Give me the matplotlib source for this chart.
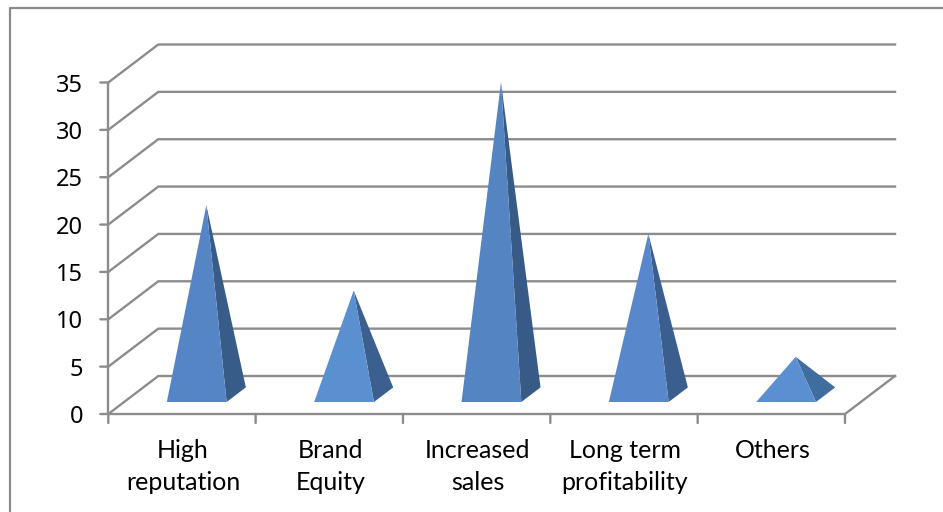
import matplotlib
matplotlib.use("Agg")
import matplotlib.pyplot as plt
from matplotlib.patches import Polygon
from matplotlib.lines import Line2D

plt.rcParams['font.family'] = ['Lato', 'DejaVu Sans']

categories = ["High\nreputation", "Brand\nEquity", "Increased\nsales", "Long term\nprofitability", "Others"]
values = [20, 11, 33, 17, 4]
yticks = [0, 5, 10, 15, 20, 25, 30, 35]
front_colors = ["#5585c5", "#5b90d0", "#5484c2", "#5888cb", "#5a8fd2"]
side_colors = ["#385c88", "#3b5f8e", "#375a87", "#3a5f8f", "#416c9f"]

W, H = 943, 512
GRID = "#8c8c8c"
LEFT, RIGHT, Y0, Y35 = 108.3, 845, 414, 82.5

fig = plt.figure(figsize=(W / 100, H / 100), dpi=100)
fig.patch.set_facecolor("white")

# outer chart frame, open at the bottom and right
fig.add_artist(Line2D([10 / W, 10 / W, 1], [0, 1 - 8 / H, 1 - 8 / H], color="#8a8a8a", lw=1.6))

ax = fig.add_axes([LEFT / W, 1 - Y0 / H, (RIGHT - LEFT) / W, (Y0 - Y35) / H])
ax.set_xlim(0, 5)
ax.set_ylim(0, 35)
ax.axis("off")

# oblique depth: one unit of depth moves 50 px right and 38 px up
dx = 50 / ((RIGHT - LEFT) / 5)
dy = 38 / ((Y0 - Y35) / 35)


def proj(x, y, d):
    return (x + d * dx, y + d * dy)


def line(pts):
    xs, ys = zip(*pts)
    ax.plot(xs, ys, color=GRID, lw=1.7, clip_on=False, solid_joinstyle="miter", zorder=1)


def tick(x, y, ox, oy):
    ax.annotate("", xy=(x, y), xytext=(ox, oy), textcoords="offset pixels",
                arrowprops=dict(arrowstyle="-", color=GRID, lw=1.7, shrinkA=0, shrinkB=0),
                annotation_clip=False)


for v in yticks:
    line([proj(0, v, 0), proj(0, v, 1), proj(5, v, 1)])
    tick(0, v, -8, 0)
    ax.annotate(str(v), xy=(0, v), xytext=(-25, 0), textcoords="offset pixels",
                ha="right", va="center_baseline", fontsize=17, family=["Noto Sans", "DejaVu Sans"],
                color="black", annotation_clip=False)
line([proj(0, 0, 0), proj(0, 35, 0)])
line([proj(0, 0, 0), proj(5, 0, 0), proj(5, 0, 1)])

for i in range(6):
    tick(i, 0, 0, -9)

for i, name in enumerate(categories):
    ax.annotate(name, xy=(i + 0.5, 0), xytext=(1, -25), textcoords="offset pixels",
                ha="center", va="top", fontsize=18, color="black", linespacing=1.48,
                annotation_clip=False)

half = 0.203
d0, d1 = 0.316, 0.70

for i, v in enumerate(values):
    c = i + 0.493
    apex = proj(c, v, 0.508)
    fl = proj(c - half, 0, d0)
    fr = proj(c + half, 0, d0)
    br = proj(c + half, 0, d1)
    ax.add_patch(Polygon([fr, br, apex], closed=True, facecolor=side_colors[i],
                         edgecolor="none", zorder=2.9, clip_on=False))
    ax.add_patch(Polygon([fl, fr, apex], closed=True, facecolor=front_colors[i],
                         edgecolor="none", zorder=3, clip_on=False))

fig.savefig("out.png", dpi=100)
